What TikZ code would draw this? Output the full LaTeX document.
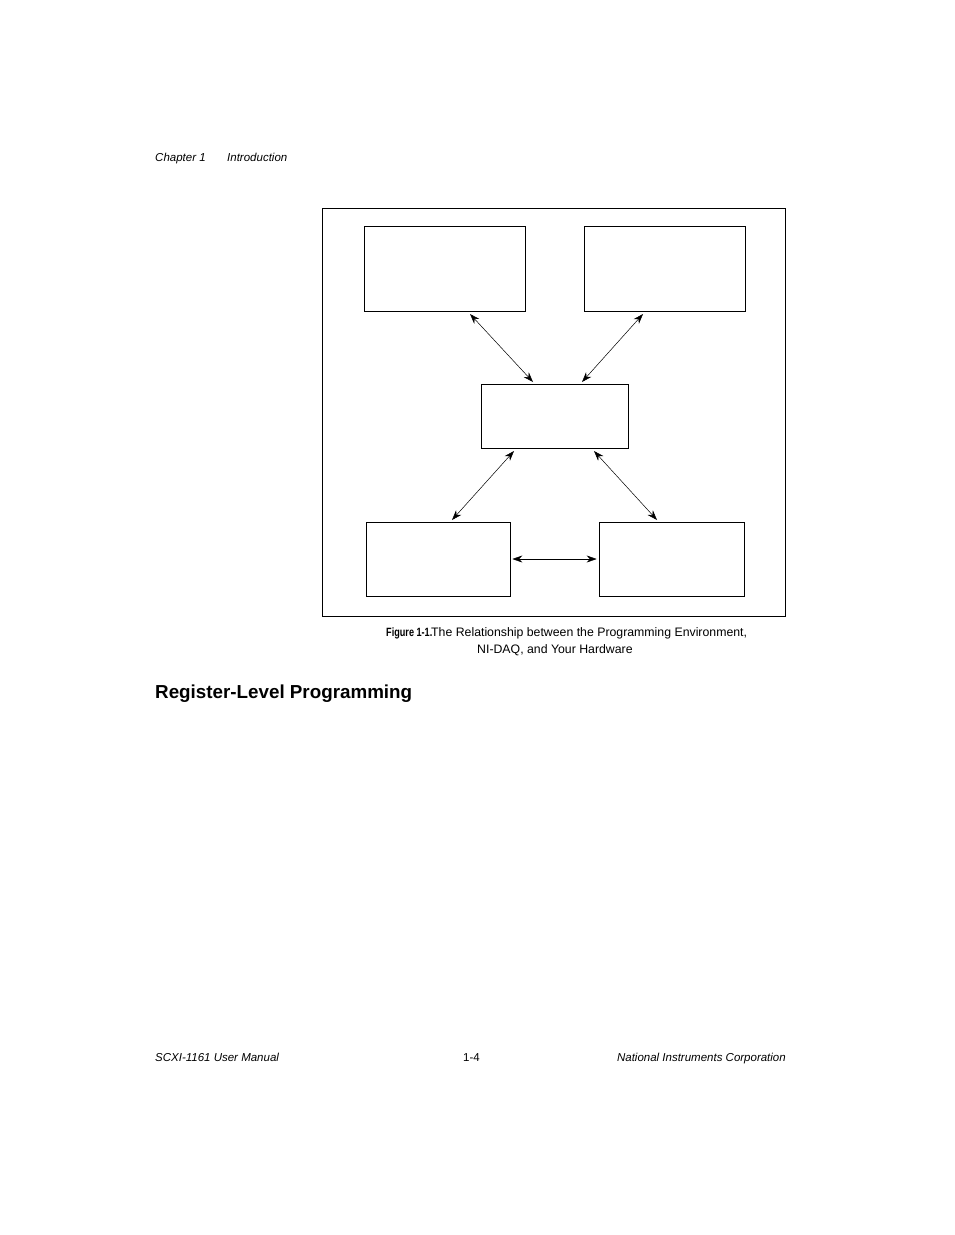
\documentclass[tikz,border=0pt]{standalone}
\usepackage{fontspec}
\setmainfont{Liberation Sans}
\newfontfamily\narrowfont{Liberation Sans}[FakeStretch=0.76]
\usetikzlibrary{arrows.meta,positioning}
\begin{document}
\begin{tikzpicture}[x=1pt, y=-1pt,
  box/.style={draw, line width=0.7pt, minimum width=#1, inner sep=0pt},
  link/.style={{Stealth[length=10pt,width=7pt]}-{Stealth[length=10pt,width=7pt]}, line width=0.5pt},
  txt/.style={inner sep=0pt, anchor=base west, font=\fontsize{12.3}{14}\selectfont}]
  \useasboundingbox (0,0) rectangle (954,1235);

  % header
  \node[txt, font=\fontsize{11.5}{13}\selectfont\itshape] (chap) at (155,161) {Chapter 1};
  \node[txt, font=\fontsize{11.5}{13}\selectfont\itshape] (intro) at (227,161) {Introduction};

  % figure frame and boxes
  \draw[line width=0.7pt] (322,208) rectangle (785,616);
  \node[box=161pt, minimum height=85pt] (env1) at (444.5,268.5) {};
  \node[box=161pt, minimum height=85pt] (env2) at (664.5,268.5) {};
  \node[box=147pt, minimum height=64pt] (nidaq) at (554.5,416) {};
  \node[box=144pt, minimum height=74pt] (hw1) at (438,559) {};
  \node[box=145pt, minimum height=74pt] (hw2) at (671.5,559) {};

  \coordinate (a1) at (470,314); \coordinate (a2) at (533,382);
  \coordinate (b1) at (643,314); \coordinate (b2) at (582,382);
  \coordinate (c1) at (514,451); \coordinate (c2) at (452,520);
  \coordinate (d1) at (594,451); \coordinate (d2) at (657,520);
  \draw[link] (a1) -- (a2);
  \draw[link] (b1) -- (b2);
  \draw[link] (c1) -- (c2);
  \draw[link] (d1) -- (d2);
  \draw[link] ([xshift=2pt]hw1.east) -- ([xshift=-2pt]hw2.west);

  % caption
  \node[txt, font=\fontsize{12}{14}\narrowfont\bfseries] (fig) at (386,636) {Figure 1-1.};
  \node[txt] (cap1) at (431,636) {The Relationship between the Programming Environment,};
  \node[txt] (cap2) at (477,653) {NI-DAQ, and Your Hardware};

  % heading
  \node[txt, font=\fontsize{18.8}{22}\selectfont\bfseries] (head) at (155,698) {Register-Level Programming};

  % footer
  \node[txt, font=\fontsize{11.5}{13}\selectfont\itshape] (foot1) at (155,1061) {SCXI-1161 User Manual};
  \node[txt, font=\fontsize{11.5}{13}\selectfont] (foot2) at (463,1061) {1-4};
  \node[inner sep=0pt, anchor=base east, font=\fontsize{11.5}{13}\selectfont\itshape] (foot3) at (786,1061) {National Instruments Corporation};
\end{tikzpicture}
\end{document}
